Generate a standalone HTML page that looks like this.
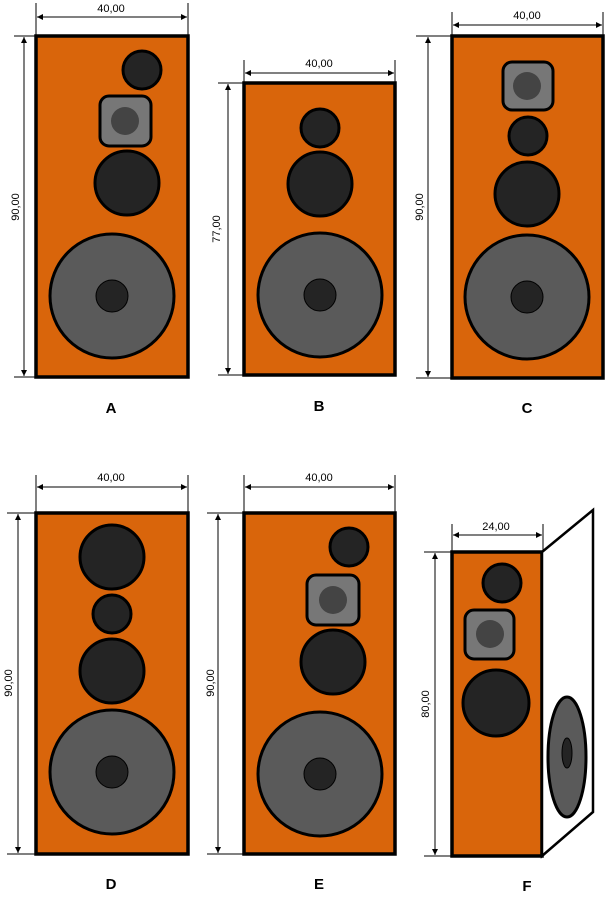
<!DOCTYPE html>
<html><head><meta charset="utf-8"><style>html,body{margin:0;padding:0;background:#fff}svg{display:block}</style></head>
<body>
<svg width="606" height="899" viewBox="0 0 606 899" xmlns="http://www.w3.org/2000/svg" font-family="Liberation Sans, sans-serif">
<defs>
<marker id="ar" viewBox="0 0 10 10" refX="10" refY="5" markerWidth="8" markerHeight="6" orient="auto-start-reverse" markerUnits="userSpaceOnUse"><path d="M0,0 L10,5 L0,10 z" fill="#000"/></marker>
</defs>
<g stroke="#000" stroke-width="1" fill="none">
<!-- A -->
<line x1="36" y1="3" x2="36" y2="36"/><line x1="188" y1="3" x2="188" y2="36"/>
<line x1="37" y1="17" x2="187" y2="17" marker-start="url(#ar)" marker-end="url(#ar)"/>
<line x1="14" y1="36" x2="36" y2="36"/><line x1="14" y1="377" x2="36" y2="377"/>
<line x1="24" y1="37" x2="24" y2="376" marker-start="url(#ar)" marker-end="url(#ar)"/>
<!-- B -->
<line x1="244" y1="60" x2="244" y2="83"/><line x1="395" y1="60" x2="395" y2="83"/>
<line x1="245" y1="73" x2="394" y2="73" marker-start="url(#ar)" marker-end="url(#ar)"/>
<line x1="218" y1="83" x2="244" y2="83"/><line x1="218" y1="375" x2="244" y2="375"/>
<line x1="228" y1="84" x2="228" y2="374" marker-start="url(#ar)" marker-end="url(#ar)"/>
<!-- C -->
<line x1="452" y1="12" x2="452" y2="36"/><line x1="603" y1="12" x2="603" y2="36"/>
<line x1="453" y1="25" x2="602" y2="25" marker-start="url(#ar)" marker-end="url(#ar)"/>
<line x1="416" y1="36" x2="452" y2="36"/><line x1="416" y1="378" x2="452" y2="378"/>
<line x1="428" y1="37" x2="428" y2="377" marker-start="url(#ar)" marker-end="url(#ar)"/>
<!-- D -->
<line x1="36" y1="475" x2="36" y2="513"/><line x1="188" y1="475" x2="188" y2="513"/>
<line x1="37" y1="487" x2="187" y2="487" marker-start="url(#ar)" marker-end="url(#ar)"/>
<line x1="7" y1="513" x2="36" y2="513"/><line x1="7" y1="854" x2="36" y2="854"/>
<line x1="18" y1="514" x2="18" y2="853" marker-start="url(#ar)" marker-end="url(#ar)"/>
<!-- E -->
<line x1="244" y1="475" x2="244" y2="513"/><line x1="395" y1="475" x2="395" y2="513"/>
<line x1="245" y1="487" x2="394" y2="487" marker-start="url(#ar)" marker-end="url(#ar)"/>
<line x1="207" y1="513" x2="244" y2="513"/><line x1="207" y1="854" x2="244" y2="854"/>
<line x1="218" y1="514" x2="218" y2="853" marker-start="url(#ar)" marker-end="url(#ar)"/>
<!-- F -->
<line x1="452" y1="524" x2="452" y2="552"/><line x1="543" y1="524" x2="543" y2="552"/>
<line x1="453" y1="535" x2="542" y2="535" marker-start="url(#ar)" marker-end="url(#ar)"/>
<line x1="424" y1="552" x2="452" y2="552"/><line x1="424" y1="856" x2="452" y2="856"/>
<line x1="435" y1="553" x2="435" y2="855" marker-start="url(#ar)" marker-end="url(#ar)"/>
</g>
<g font-size="11" fill="#000" text-anchor="middle">
<text x="111" y="12">40,00</text>
<text x="319" y="67">40,00</text>
<text x="527" y="19">40,00</text>
<text x="111" y="481">40,00</text>
<text x="319" y="481">40,00</text>
<text x="496" y="530">24,00</text>
<text transform="translate(19,207) rotate(-90)">90,00</text>
<text transform="translate(220,229) rotate(-90)">77,00</text>
<text transform="translate(423,207) rotate(-90)">90,00</text>
<text transform="translate(12,683) rotate(-90)">90,00</text>
<text transform="translate(214,683) rotate(-90)">90,00</text>
<text transform="translate(429,704) rotate(-90)">80,00</text>
</g>
<g font-size="15" font-weight="bold" fill="#000" text-anchor="middle">
<text x="111" y="413">A</text><text x="319" y="411">B</text><text x="527" y="413">C</text>
<text x="111" y="889">D</text><text x="319" y="889">E</text><text x="527" y="891">F</text>
</g>
<g stroke="#000" stroke-width="3.5">
<rect x="36" y="36" width="152" height="341" fill="#d9650b"/>
<rect x="244" y="83" width="151" height="292" fill="#d9650b"/>
<rect x="452" y="36" width="151" height="342" fill="#d9650b"/>
<rect x="36" y="513" width="152" height="341" fill="#d9650b"/>
<rect x="244" y="513" width="151" height="341" fill="#d9650b"/>
<rect x="452" y="552" width="90" height="304" fill="#d9650b"/>
<polygon points="542,552 593,510 593,812 542,856" fill="#fff" stroke-width="2.5"/>
</g>
<g stroke="#000" stroke-width="3" fill="#242424">
<!-- A -->
<circle cx="142" cy="70" r="19"/>
<rect x="100" y="96" width="51" height="50" rx="9" fill="#777"/>
<circle cx="127" cy="183" r="32"/>
<circle cx="112" cy="296" r="62" fill="#5a5a5a"/>
<!-- B -->
<circle cx="320" cy="128" r="19"/>
<circle cx="320" cy="184" r="32"/>
<circle cx="320" cy="295" r="62" fill="#5a5a5a"/>
<!-- C -->
<rect x="503" y="62" width="50" height="48" rx="9" fill="#777"/>
<circle cx="528" cy="136" r="19"/>
<circle cx="527" cy="194" r="32"/>
<circle cx="527" cy="297" r="62" fill="#5a5a5a"/>
<!-- D -->
<circle cx="112" cy="557" r="32"/>
<circle cx="112" cy="614" r="19"/>
<circle cx="112" cy="671" r="32"/>
<circle cx="112" cy="772" r="62" fill="#5a5a5a"/>
<!-- E -->
<circle cx="349" cy="547" r="19"/>
<rect x="307" y="575" width="52" height="50" rx="9" fill="#777"/>
<circle cx="333" cy="662" r="32"/>
<circle cx="320" cy="774" r="62" fill="#5a5a5a"/>
<!-- F -->
<circle cx="502" cy="583" r="19"/>
<rect x="465" y="610" width="49" height="49" rx="9" fill="#777"/>
<circle cx="496" cy="703" r="33"/>
<ellipse cx="567" cy="757" rx="19" ry="60" fill="#5a5a5a"/>
</g>
<g stroke="none" fill="#444">
<circle cx="125" cy="121" r="14"/>
<circle cx="527" cy="86" r="14"/>
<circle cx="333" cy="600" r="14"/>
<circle cx="490" cy="634" r="14"/>
</g>
<g stroke="#000" stroke-width="1" fill="#242424">
<circle cx="112" cy="296" r="16"/>
<circle cx="320" cy="295" r="16"/>
<circle cx="527" cy="297" r="16"/>
<circle cx="112" cy="772" r="16"/>
<circle cx="320" cy="774" r="16"/>
<ellipse cx="567" cy="753" rx="5" ry="15"/>
</g>
</svg>
</body></html>
